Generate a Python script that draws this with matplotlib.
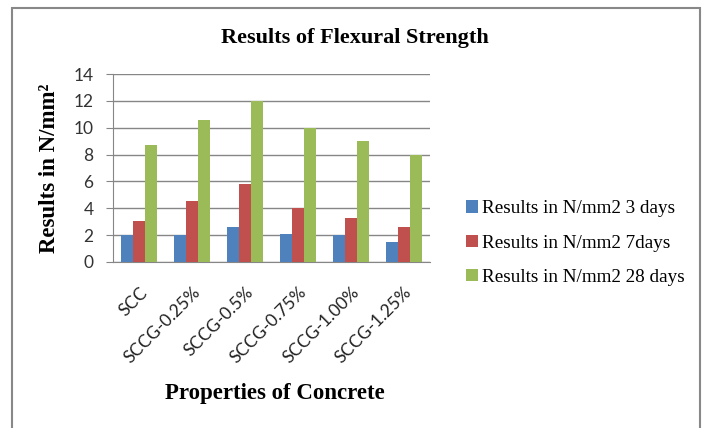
import numpy as np
import matplotlib
matplotlib.use("Agg")
import matplotlib.pyplot as plt
from matplotlib.patches import Rectangle

# flexural strength results (N/mm2)
mixes = ["SCC", "SCCG-0.25%", "SCCG-0.5%", "SCCG-0.75%", "SCCG-1.00%", "SCCG-1.25%"]
days3 = [2.0, 2.0, 2.57, 2.07, 2.0, 1.5]
days7 = [3.04, 4.53, 5.8, 4.03, 3.26, 2.64]
days28 = [8.69, 10.58, 12.0, 9.98, 8.99, 7.99]
series_names = ["Results in N/mm2 3 days", "Results in N/mm2 7days", "Results in N/mm2 28 days"]
colors = ["#4F81BD", "#C0504D", "#9BBB59"]

W, H = 708, 428
fig = plt.figure(figsize=(W / 100, H / 100), dpi=100)
ax = fig.add_axes([113 / W, 1 - 262 / H, (430 - 113) / W, (262 - 74) / H])

x = np.arange(len(mixes))
bw = 0.227
for i, (vals, name, c) in enumerate(zip([days3, days7, days28], series_names, colors)):
    ax.bar(x + (i - 1) * bw, vals, bw, color=c, label=name, zorder=3)

ax.set_xlim(-0.5, len(mixes) - 0.5)
ax.set_ylim(0, 14)
ax.set_yticks(range(0, 15, 2))
ax.grid(axis="y", color="#868686", linewidth=1, zorder=0)
for s in ["top", "right"]:
    ax.spines[s].set_visible(False)
for s in ["left", "bottom"]:
    ax.spines[s].set_color("#868686")
ax.tick_params(axis="y", length=5, color="#868686", pad=9)
ax.tick_params(axis="x", length=0, pad=16)
ax.set_xticks(x)
ax.set_xticklabels(mixes, rotation=45, ha="right", rotation_mode="anchor")
for lbl in ax.get_xticklabels():
    lbl.set_family("Lato")
    lbl.set_fontsize(12.5)
    lbl.set_color("#222222")
for lbl in ax.get_yticklabels():
    lbl.set_family("Lato")
    lbl.set_fontsize(12.5)
    lbl.set_color("#333333")

serif = "Liberation Serif"
fig.text(355 / W, 1 - 38 / H, "Results of Flexural Strength", ha="center", va="center",
         fontsize=16, fontweight="bold", family=serif)
fig.text(275 / W, 1 - 394 / H, "Properties of Concrete", ha="center", va="center",
         fontsize=16.5, fontweight="bold", family=serif)
fig.text(50 / W, 1 - 168 / H, "Results in N/mm²", ha="center", va="center", rotation=90,
         fontsize=16.5, fontweight="bold", family=serif)

ax.legend(loc="center left", bbox_to_anchor=(466 / W, 1 - 243 / H),
          bbox_transform=fig.transFigure, frameon=False, borderaxespad=0,
          prop={"family": serif, "size": 13.8}, handlelength=0.6, handleheight=0.6,
          handletextpad=0.25, labelspacing=0.9, borderpad=0)

# outer chart border
fig.patches.append(Rectangle((12 / W, -0.05), (700 - 12) / W, 1 - 8 / H + 0.05,
                             transform=fig.transFigure, fill=False,
                             edgecolor="#888888", linewidth=1.5))

fig.savefig("out.png", dpi=100)
